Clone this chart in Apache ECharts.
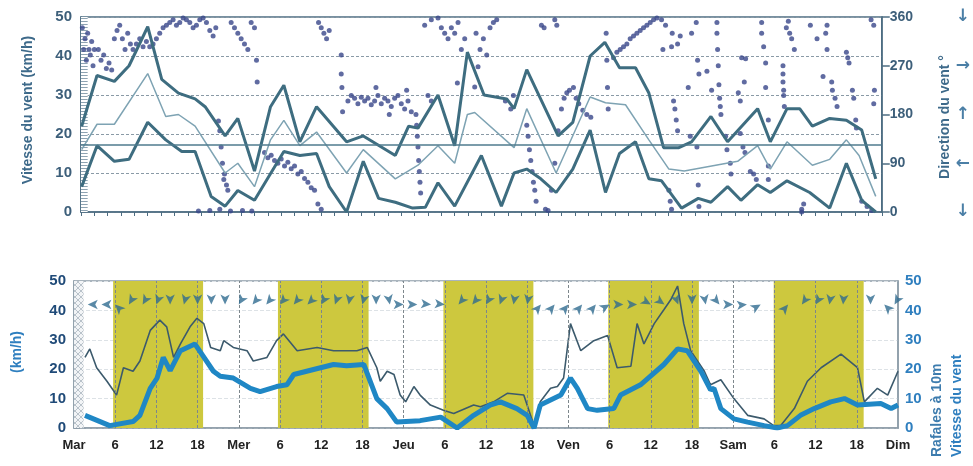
<!DOCTYPE html>
<html>
<head>
<meta charset="utf-8">
<script src="https://cdn.jsdelivr.net/npm/echarts@6/dist/echarts.min.js"></script>
<style>
html, body { margin: 0; padding: 0; background: #fff; }
#chart { width: 973px; height: 466px; }
</style>
</head>
<body>
<div id="chart"></div>
<script>
// heures depuis mardi 0h -> valeurs

// panneau haut : vitesse max / moyenne / min (km/h)
var vitesseMax = [[0.1,22],[2.4,35],[5.0,33.5],[7.2,37.5],[10.0,47.5],[12.1,34],[14.6,30.5],[17.1,29],[18.6,27],[21.6,19.5],[23.5,24],[26.0,10.5],[28.4,27],[30.4,32.5],[32.8,18],[35.3,27],[39.8,18],[42.3,19.5],[47.1,14.5],[49.1,22],[50.5,21.5],[53.5,30],[56.0,17],[57.9,41],[60.4,30],[63.8,29],[64.9,26.5],[66.8,36.5],[71.5,19.5],[73.7,23],[76.3,40],[78.5,43.5],[80.7,37],[83.1,37],[85.1,30.5],[87.3,16.5],[89.6,16.5],[91.5,18],[94.4,24.5],[96.9,18],[101.4,26.5],[103.3,18],[105.8,26.5],[107.7,26.5],[109.6,22],[112.2,24],[114.7,23.5],[117.0,21],[119.1,8.5]];
var vitesseMoy = [[0.1,16],[2.4,22.5],[5.0,22.5],[10.0,35.5],[12.7,24.5],[14.6,25],[17.1,22],[21.6,10],[23.5,12.5],[26.0,6.5],[28.4,18.5],[30.4,23.5],[32.8,17],[35.3,20.5],[39.8,10],[42.3,16],[47.1,8.5],[50.5,12],[53.5,17],[56.0,12.5],[57.9,25],[59.0,25.5],[64.9,16.5],[66.8,26.5],[71.2,10],[76.3,29.5],[78.6,28],[81.6,27.5],[85.1,18.5],[88.1,11],[90.4,10.5],[98.4,13],[101.4,17],[103.3,11],[105.8,18],[109.6,12],[112.2,13.5],[114.7,18.5],[116.6,14.5],[119.1,4]];
var vitesseMin = [[0.1,6.5],[2.4,17],[5.0,13],[7.2,13.5],[10.0,23],[12.7,18.5],[15.1,15.5],[17.1,15.5],[19.5,4],[21.6,1.5],[23.5,5.5],[26.0,3],[30.4,15.5],[32.8,14.5],[35.3,15],[37.2,6.5],[39.8,0],[42.3,13],[44.6,3.5],[47.1,2.5],[49.7,1],[51.6,1.2],[53.5,7.5],[56.0,1.5],[60.0,14.5],[63.0,1.5],[64.9,10],[66.8,11],[68.9,8.5],[71.2,5],[73.7,11],[76.3,21],[78.6,5],[80.7,15],[83.1,18],[85.1,8.5],[87.0,8],[90.0,1],[92.5,3.5],[94.4,2.5],[96.9,6.5],[98.9,3],[101.4,7],[103.3,5],[105.8,8],[109.2,5],[112.2,1],[114.7,12.5],[117.0,3],[119.1,0]];
var moyenneGlobale = 17.3;

// direction du vent (degrés)
var direction = [[0.2,340],[0.4,300],[0.6,320],[0.8,280],[1.0,330],[1.2,300],[1.4,290],[1.6,315],[1.8,270],[2.0,300],
[2.6,300],[3.0,280],[3.4,290],[3.8,265],[4.2,275],[4.6,262],[5.0,320],[5.4,335],[5.8,345],[6.2,320],[6.6,300],[7.0,330],[7.4,310],
[7.8,300],[8.3,310],[8.8,320],[9.3,305],[9.8,315],[10.3,305],
[10.8,310],[11.3,320],[11.8,330],[12.3,340],[12.8,345],[13.3,350],[13.8,355],[14.3,345],[14.8,350],[15.3,358],[15.8,355],[16.3,350],[16.8,340],[17.3,345],[17.8,355],[18.3,358],[18.8,350],[19.3,335],[19.8,325],[20.2,340],
[22.5,350],[23.0,340],[23.5,330],[24.0,320],[24.5,310],[25.0,300],[25.5,350],[26.0,340],[26.3,280],[26.4,240],
[17.6,2],[19.3,3],[20.8,5],[22.4,2],[24.2,3],[25.6,2],
[20.6,168],[20.8,150],[21.0,120],[21.2,90],[21.4,60],[21.5,70],[21.8,50],[22.0,40],
[27.5,110],[28.0,100],[28.5,105],[29.0,95],[29.5,90],[30.0,98],[30.5,85],[31.0,92],[31.5,80],[32.0,85],[32.5,70],[33.0,75],[33.5,62],[34.0,55],[34.5,45],[35.0,40],[35.5,15],[36.0,5],
[35.6,350],[36.0,340],[36.4,330],[36.8,320],[37.2,335],
[39.0,290],[39.0,255],[39.1,230],[39.2,185],
[40.0,205],[40.5,215],[41.0,210],[41.5,200],[42.0,212],[42.5,205],[43.0,210],[43.5,198],[44.0,205],[44.5,215],[45.0,200],[45.5,210],[46.0,205],[46.5,195],[47.0,210],[47.5,215],[48.0,200],[48.5,190],[49.0,205],[49.5,185],[44.2,230],[46.2,180],[48.8,225],
[50.2,180],[50.3,160],[50.4,140],[50.5,120],[50.6,95],[50.7,75],[50.8,55],[50.9,35],
[52.0,215],[52.5,205],
[51.5,345],[52.5,355],[53.5,358],[54.0,340],[54.5,330],[55.0,320],[55.5,340],[56.0,330],[56.5,350],[57.0,300],[57.5,320],
[56.4,238],[59.0,231],[59.5,268],
[59.2,330],[59.8,300],[60.3,320],[60.8,290],[61.3,340],[61.8,350],[62.3,355],
[63.6,205],[64.4,190],[64.8,215],
[66.8,160],[67.0,140],[67.2,115],[67.4,95],[67.6,75],[67.8,55],[68.0,40],[68.2,20],
[69.0,345],[69.4,340],
[69.6,5],[70.0,3],[70.5,40],[71.0,90],[71.5,150],[72.0,190],[72.4,210],[72.8,220],[73.2,225],[71.0,355],[71.3,345],
[73.8,230],[74.2,210],[74.6,200],[75.2,188],[75.8,180],[76.4,175],
[78.7,330],[78.8,280],[78.9,230],[79.0,190],
[79.8,285],[80.3,295],[80.8,300],[81.3,305],[81.8,310],[82.3,320],[82.8,325],[83.3,330],[83.8,335],[84.3,340],[84.8,345],[85.3,350],[85.8,355],[86.3,358],
[87.2,300],[88.5,305],
[87.0,355],[87.6,345],[88.6,330],[89.4,310],[89.8,325],
[88.1,40],[88.3,20],[88.5,5],
[88.8,205],[89.0,190],[89.2,170],[89.4,150],
[91.0,230],[91.5,330],[92.2,350],[92.4,280],[92.6,255],[91.3,140],[92.3,120],[92.5,50],[92.6,10],
[93.8,260],[94.5,225],[95.3,350],[95.3,330],[95.4,300],[95.5,270],[95.6,235],[95.7,210],[95.8,195],[95.9,180],[96.6,140],[96.8,115],[97.3,90],[97.4,70],
[98.5,220],[98.8,205],[99.0,285],[99.6,283],[99.4,240],[98.8,145],[99.2,120],[99.5,110],[100.3,75],[100.8,70],[101.2,60],
[102.0,350],[102.0,330],[102.3,305],[102.6,275],[102.6,230],[103.0,170],[103.0,85],[103.0,60],
[105.2,270],[105.2,255],[105.2,240],[105.3,225],[105.3,215],[105.4,195],[105.7,340],[106.0,352],[106.2,330],[106.5,320],[106.9,300],
[108.0,5],[108.3,15],[108.0,0],[109.3,345],[110.3,320],
[111.2,250],[111.6,330],[111.8,345],[112.5,240],[112.6,225],[113.0,210],[113.3,195],[111.8,300],
[114.7,295],[114.9,285],[115.1,275],[115.6,225],[115.8,210],[116.1,170],[116.2,155],
[117.0,20],[117.8,10],[118.5,3],[118.4,355],[118.8,345],[118.9,225],[118.8,200]];

// panneau bas : vitesse moyenne et rafales à 10 m (km/h)
var vitesse = [[1.6,4.3],[5.2,0.8],[8.6,2.2],[9.6,4.3],[11.1,13.5],[12.1,17],[13.0,24],[14.0,19.5],[15.5,26.3],[17.6,28.6],[20.3,19.3],[21.3,17.6],[23.2,17],[25.7,13.5],[27.1,12.4],[29.5,14.1],[31.0,14.7],[32.0,18.2],[35.9,20.5],[37.8,21.6],[39.7,21.2],[42.2,21.6],[44.1,10],[45.6,6.6],[47.0,2],[50.4,2.5],[53.4,3.7],[55.8,0],[58.2,4.3],[60.6,7.8],[62.1,8.9],[64.5,6.6],[66.0,4.3],[67.0,0],[67.9,7.8],[70.9,11.2],[72.3,17],[73.3,13.5],[74.8,6.6],[76.2,6],[78.6,6.6],[79.6,11.2],[82.5,14.7],[85.9,21.6],[87.9,26.9],[89.3,26.3],[91.3,19.3],[92.7,13],[93.2,13.5],[94.2,6.6],[96.1,3.1],[98.1,2],[100.5,0.8],[102.4,0],[103.9,0.8],[105.8,4.3],[107.8,6.6],[110.2,8.9],[112.2,10],[114.1,7.8],[117.5,8.3],[119.0,6.6],[120,7.8]];
var rafales = [[1.6,24],[2.3,26.9],[3.3,20.5],[4.8,15.9],[6.2,11.2],[7.2,20.5],[8.6,19.3],[9.6,22.8],[11.1,33.2],[12.5,36.7],[13.5,34.4],[14.5,24],[15.5,28.6],[16.9,34.4],[17.9,37.3],[18.9,35.5],[19.9,27.4],[21.3,26.3],[21.8,29.7],[23.2,27.4],[25.2,26.3],[26.1,22.8],[28.1,24],[29.5,29.7],[30.5,32],[32.5,26.3],[35.4,27.4],[37.8,26.3],[41.2,26.3],[42.7,27.4],[44.1,20.5],[44.6,15.9],[45.6,19.3],[46.6,18.2],[47.5,11.2],[48.3,8.9],[49.5,14.1],[50.4,11.2],[51.9,7.8],[53.8,6],[55.3,4.9],[58.2,7.8],[59.2,7.2],[61.1,8.9],[63.1,11.8],[65.5,11.2],[67.0,0.8],[67.9,8.9],[69.4,13.5],[70.4,14.1],[71.3,17],[72.3,35.5],[73.8,26.3],[75.7,29.7],[77.7,31.5],[79.1,20.5],[81.1,21],[82.0,35.5],[83.0,28.6],[84.5,35.5],[85.9,40.2],[86.9,43.6],[87.9,48.3],[88.8,35.5],[89.8,26.3],[91.8,19.3],[92.7,14.7],[94.2,16.4],[96.1,10],[98.1,4.3],[100.5,3.1],[101.9,0.8],[102.9,0.8],[104.9,6.6],[106.8,15.9],[108.8,20.5],[111.7,25.1],[114.1,20.5],[115.1,8.9],[117.0,13.5],[118.5,11.2],[120,19.3]];

// périodes de jour (heures)
var journees = [[5.7,18.8],[29.7,42.9],[53.8,66.9],[77.8,91.0],[101.9,115.0]];
var sansDonnees = [0, 1.4];
var bandeHaut = [0, 1.0];

// flèches de direction : [heure, rotation en degrés]
var fleches = [[2,90],[4,90],[6,45],[8,150],[10,150],[12,160],[14,180],[16,165],[18,180],[20,180],[22,180],[24,150],[26,140],[28,140],[30,140],[32,140],[34,135],[36,150],[38,160],[40,170],[42,165],[44,180],[46,190],[48,270],[50,270],[52,265],[54,265],[56,140],[58,140],[60,150],[62,160],[64,170],[66,170],[68,320],[70,320],[72,320],[74,320],[76,320],[78,300],[80,270],[82,270],[84,240],[86,235],[88,200],[90,180],[92,190],[94,220],[96,270],[98,275],[100,300],[104,320],[106,145],[108,150],[110,170],[112,175],[116,180],[118,45],[119.5,150]];
var niveauFleches = 42;

var xLabels = ['Mar','6','12','18','Mer','6','12','18','Jeu','6','12','18','Ven','6','12','18','Sam','6','12','18','Dim'];
var dirLabels = { 0: '↓', 90: '←', 180: '↑', 270: '→', 360: '↓' };

// motifs de hachures
function motifLignes() {
  var c = document.createElement('canvas');
  c.width = 4; c.height = 3;
  var g = c.getContext('2d');
  g.fillStyle = '#ffffff'; g.fillRect(0, 0, 4, 3);
  g.fillStyle = '#8ea3b2'; g.fillRect(0, 0, 4, 1);
  return c;
}
function motifCroise() {
  var c = document.createElement('canvas');
  c.width = 6; c.height = 6;
  var g = c.getContext('2d');
  g.fillStyle = '#f2f4f6'; g.fillRect(0, 0, 6, 6);
  g.strokeStyle = '#b9c2ca'; g.lineWidth = 1;
  g.beginPath(); g.moveTo(0, 0); g.lineTo(6, 6); g.moveTo(6, 0); g.lineTo(0, 6); g.stroke();
  return c;
}

var chart = echarts.init(document.getElementById('chart'));
var police = 'Liberation Sans';
var traitsHeures = [];
for (var i = 1; i < xLabels.length - 1; i++) traitsHeures.push({ xAxis: i * 6 });

var option = {
  animation: false,
  backgroundColor: '#fff',
  textStyle: { fontFamily: police },
  grid: [
    { left: 81, right: 80, top: 17, height: 195, show: true, borderColor: '#4d6d82', borderWidth: 1.5, backgroundColor: 'transparent' },
    { left: 74, right: 75, top: 281, height: 147, show: true, borderColor: '#8d9ca8', borderWidth: 1.5, backgroundColor: 'transparent' }
  ],
  xAxis: [
    {
      gridIndex: 0, type: 'value', min: 0, max: 120, interval: 2, position: 'top',
      axisLine: { show: true, lineStyle: { color: '#4d6d82', width: 1.5 } },
      axisTick: { show: true, inside: true, length: 4, lineStyle: { color: '#4d6d82' } },
      axisLabel: { show: false }, splitLine: { show: false }
    },
    {
      gridIndex: 1, type: 'value', min: 0, max: 120, interval: 6,
      axisLine: { show: true, lineStyle: { color: '#8d9ca8', width: 1.5 } },
      axisTick: { show: false },
      axisLabel: {
        margin: 11, color: '#222', fontWeight: 'bold', fontSize: 13,
        formatter: function (v) { return xLabels[Math.round(v / 6)]; }
      },
      splitLine: { show: false }
    }
  ],
  yAxis: [
    {
      gridIndex: 0, type: 'value', min: 0, max: 50, interval: 10,
      axisLine: { show: true, lineStyle: { color: '#4d6d82', width: 1.5 } },
      axisTick: { show: false },
      axisLabel: { margin: 9, color: '#3d5f7a', fontWeight: 'bold', fontSize: 15 },
      splitLine: { show: true, lineStyle: { color: '#8a9aa6', type: [3, 2], width: 1 } }
    },
    {
      gridIndex: 0, type: 'value', min: 0, max: 360, interval: 90, position: 'right',
      axisLine: { show: true, lineStyle: { color: '#4d6d82', width: 1.5 } },
      axisTick: { show: true, length: 8, lineStyle: { color: '#4d6d82', width: 1.5 } },
      axisLabel: { margin: 8, color: '#3d5f7a', fontWeight: 'bold', fontSize: 14 },
      splitLine: { show: false }
    },
    {
      gridIndex: 0, type: 'value', min: 0, max: 360, interval: 90, position: 'right', offset: 66,
      axisLine: { show: false }, axisTick: { show: false }, splitLine: { show: false },
      axisLabel: {
        color: '#4b7fa6', fontWeight: 'bold', fontSize: 17, fontFamily: 'DejaVu Sans',
        formatter: function (v) { return dirLabels[v]; }
      }
    },
    {
      gridIndex: 1, type: 'value', min: 0, max: 50, interval: 10,
      axisLine: { show: true, lineStyle: { color: '#8d9ca8', width: 1.5 } },
      axisTick: { show: true, inside: true, length: 6, lineStyle: { color: '#8d9ca8' } },
      axisLabel: { margin: 8, color: '#1f4a78', fontWeight: 'bold', fontSize: 15 },
      splitLine: { show: true, lineStyle: { color: '#dde2e6', type: 'dashed', width: 1 } }
    },
    {
      gridIndex: 1, type: 'value', min: 0, max: 50, interval: 10, position: 'right',
      axisLine: { show: true, lineStyle: { color: '#8d9ca8', width: 1.5 } },
      axisTick: { show: false },
      axisLabel: { margin: 7, color: '#2f7fbf', fontWeight: 'bold', fontSize: 15 },
      splitLine: { show: false }
    }
  ],
  graphic: [
    { type: 'text', x: 28, y: 110, rotation: Math.PI / 2,
      style: { text: 'Vitesse du vent (km/h)', font: 'bold 14px ' + police, fill: '#3e6a8a', align: 'center', verticalAlign: 'middle' } },
    { type: 'text', x: 945, y: 117, rotation: Math.PI / 2,
      style: { text: 'Direction du vent °', font: 'bold 14px ' + police, fill: '#3e6a8a', align: 'center', verticalAlign: 'middle' } },
    { type: 'text', x: 17, y: 352, rotation: Math.PI / 2,
      style: { text: '(km/h)', font: 'bold 14px ' + police, fill: '#2f7fbf', align: 'center', verticalAlign: 'middle' } },
    { type: 'text', x: 937, y: 457, rotation: Math.PI / 2,
      style: { text: 'Rafales à 10m', font: 'bold 14px ' + police, fill: '#3d7cae', align: 'left', verticalAlign: 'middle' } },
    { type: 'text', x: 957, y: 457, rotation: Math.PI / 2,
      style: { text: 'Vitesse du vent', font: 'bold 14px ' + police, fill: '#2f7fbf', align: 'left', verticalAlign: 'middle' } }
  ],
  series: [
    // panneau haut
    {
      name: 'Direction', type: 'scatter', xAxisIndex: 0, yAxisIndex: 1, z: 1,
      data: direction, symbolSize: 5,
      itemStyle: { color: '#38468a' },
      markArea: {
        silent: true,
        data: [[{ xAxis: bandeHaut[0], itemStyle: { color: { image: motifLignes(), repeat: 'repeat' } } }, { xAxis: bandeHaut[1] }]]
      }
    },
    {
      name: 'Max', type: 'line', xAxisIndex: 0, yAxisIndex: 0, z: 3,
      data: vitesseMax, showSymbol: false,
      lineStyle: { color: '#3e6d80', width: 3 }
    },
    {
      name: 'Moyenne', type: 'line', xAxisIndex: 0, yAxisIndex: 0, z: 3,
      data: vitesseMoy, showSymbol: false,
      lineStyle: { color: '#7ea3b3', width: 1.5 },
      markLine: {
        silent: true, symbol: 'none', label: { show: false },
        lineStyle: { color: '#4f7b8e', width: 1.5, type: 'solid' },
        data: [{ yAxis: moyenneGlobale }]
      }
    },
    {
      name: 'Min', type: 'line', xAxisIndex: 0, yAxisIndex: 0, z: 3,
      data: vitesseMin, showSymbol: false,
      lineStyle: { color: '#3e6d80', width: 3 }
    },
    // panneau bas : fonds jour / nuit
    {
      name: 'Jour', type: 'line', xAxisIndex: 1, yAxisIndex: 3, z: 1,
      data: [], silent: true,
      markArea: {
        silent: true,
        data: journees.map(function (j) {
          return [{ xAxis: j[0], itemStyle: { color: '#cdc83e' } }, { xAxis: j[1] }];
        }).concat([[{ xAxis: sansDonnees[0], itemStyle: { color: { image: motifCroise(), repeat: 'repeat' } } }, { xAxis: sansDonnees[1] }]])
      }
    },
    {
      name: 'Heures', type: 'line', xAxisIndex: 1, yAxisIndex: 3, z: 2,
      data: [], silent: true,
      markLine: {
        silent: true, symbol: 'none', label: { show: false },
        lineStyle: { color: '#7d878c', width: 1, type: [3, 2] },
        data: traitsHeures
      }
    },
    {
      name: 'Rafales', type: 'line', xAxisIndex: 1, yAxisIndex: 3, z: 4,
      data: rafales, showSymbol: false,
      lineStyle: { color: '#3c5a6c', width: 1.6 }
    },
    {
      name: 'Vitesse', type: 'line', xAxisIndex: 1, yAxisIndex: 3, z: 5,
      data: vitesse, showSymbol: false,
      lineStyle: { color: '#1f87c5', width: 5 }
    },
    {
      name: 'Fleches', type: 'scatter', xAxisIndex: 1, yAxisIndex: 3, z: 6,
      data: fleches.map(function (f) { return [f[0], niveauFleches, f[1]]; }),
      symbol: 'arrow', symbolSize: [7, 10],
      symbolRotate: function (v) { return v[2]; },
      itemStyle: { color: '#2f6b90' }
    }
  ]
};
chart.setOption(option);
</script>
</body>
</html>
